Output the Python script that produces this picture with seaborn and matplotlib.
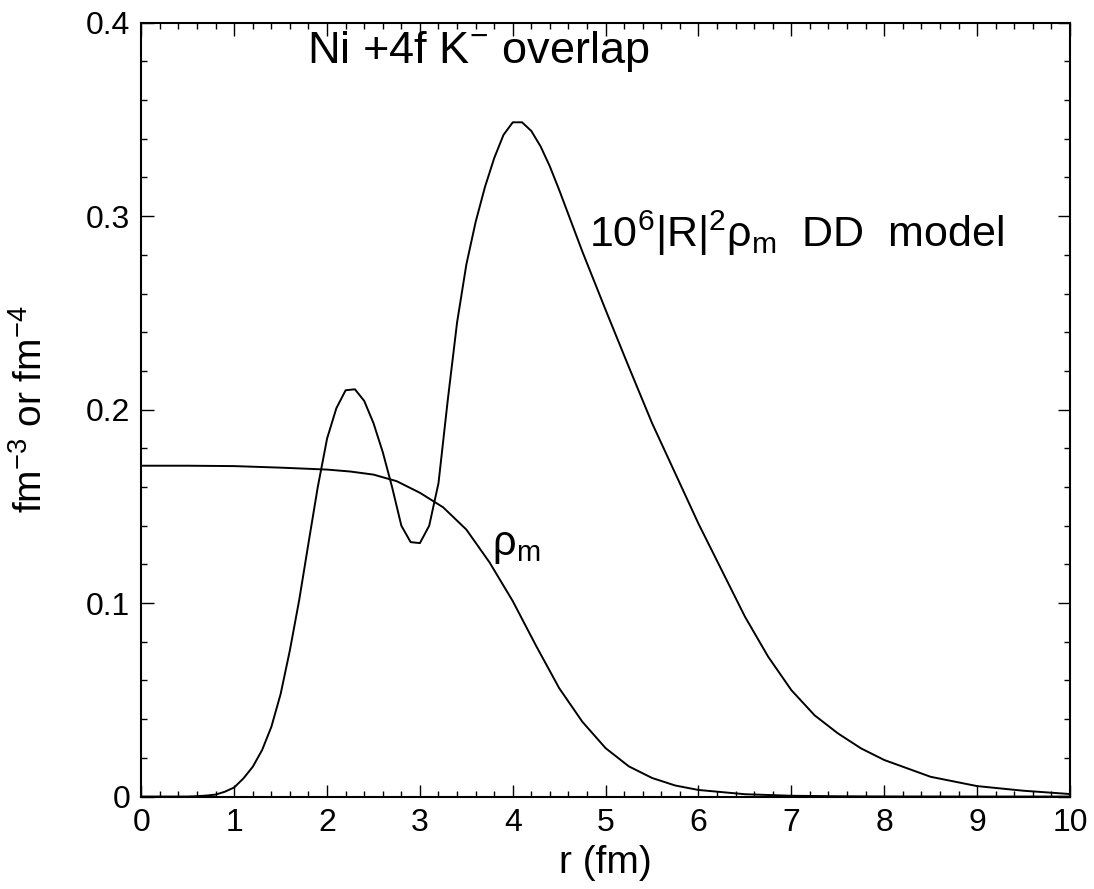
import numpy as np
import pandas as pd
import matplotlib
matplotlib.use('Agg')
import matplotlib.pyplot as plt
import seaborn as sns
from matplotlib.ticker import MultipleLocator, FuncFormatter

# matter density rho_m (fm^-3)
r_rho = [0.0, 0.5, 1.0, 1.5, 2.0, 2.25, 2.5, 2.75, 3.0, 3.25, 3.5, 3.75,
         4.0, 4.25, 4.5, 4.75, 5.0, 5.25, 5.5, 5.75, 6.0, 6.5, 7.0, 7.5,
         8.0, 9.0, 10.0]
rho_m = [0.171, 0.171, 0.1708, 0.1700, 0.1690, 0.1680, 0.1664, 0.1630,
         0.1570, 0.1495, 0.1380, 0.1210, 0.1010, 0.0780, 0.0560, 0.0386,
         0.0250, 0.0156, 0.0096, 0.0057, 0.0034, 0.0012, 0.0004, 0.00015,
         0.00005, 0.0, 0.0]

# 10^6 |R|^2 rho_m for the DD model
r_ov = [0.0, 0.5, 0.6, 0.7, 0.8, 0.9, 1.0, 1.1, 1.2, 1.3, 1.4, 1.5, 1.6,
        1.7, 1.8, 1.9, 2.0, 2.1, 2.2, 2.3, 2.4, 2.5, 2.6, 2.7, 2.8, 2.9,
        3.0, 3.1, 3.2, 3.3, 3.4, 3.5, 3.6, 3.7, 3.8, 3.9, 4.0, 4.1, 4.2,
        4.3, 4.4, 4.5, 4.75, 5.0, 5.25, 5.5, 5.75, 6.0, 6.25, 6.5, 6.75,
        7.0, 7.25, 7.5, 7.75, 8.0, 8.5, 9.0, 9.5, 10.0]
overlap = [0.0, 0.0, 0.0002, 0.0005, 0.0010, 0.0025, 0.0047, 0.0094,
           0.0154, 0.0240, 0.0360, 0.0530, 0.0757, 0.1016, 0.1310, 0.1600,
           0.1850, 0.2007, 0.2100, 0.2105, 0.2045, 0.1930, 0.1780, 0.1600,
           0.1400, 0.1315, 0.1310, 0.1400, 0.1620, 0.2050, 0.2450, 0.2750,
           0.2970, 0.3150, 0.3300, 0.3420, 0.3485, 0.3485, 0.3440, 0.3360,
           0.3256, 0.3135, 0.2816, 0.2515, 0.2220, 0.1930, 0.1670, 0.1410,
           0.1170, 0.0930, 0.0723, 0.0550, 0.0420, 0.0327, 0.0249, 0.0189,
           0.0102, 0.0054, 0.0030, 0.0013]

sns.set_theme(style='ticks')
plt.rcParams['font.family'] = ['Liberation Sans', 'DejaVu Sans']
plt.rcParams['mathtext.fontset'] = 'custom'
plt.rcParams['mathtext.rm'] = 'Liberation Sans'
plt.rcParams['mathtext.it'] = 'Liberation Sans'
for key in ['text.color', 'axes.labelcolor', 'xtick.color', 'ytick.color',
            'axes.edgecolor']:
    plt.rcParams[key] = 'black'

df_rho = pd.DataFrame({'r': r_rho, 'y': rho_m})
df_ov = pd.DataFrame({'r': r_ov, 'y': overlap})

fig = plt.figure(figsize=(10.94, 8.89), dpi=100)
ax = fig.add_axes([0.1292, 0.104, 0.8488, 0.8705])

sns.lineplot(data=df_rho, x='r', y='y', ax=ax, color='black', lw=1.4,
             estimator=None, sort=False)
sns.lineplot(data=df_ov, x='r', y='y', ax=ax, color='black', lw=1.4,
             estimator=None, sort=False)

ax.set_xlim(0, 10)
ax.set_ylim(0, 0.4)
ax.xaxis.set_major_locator(MultipleLocator(1))
ax.xaxis.set_minor_locator(MultipleLocator(0.2))
ax.yaxis.set_major_locator(MultipleLocator(0.1))
ax.yaxis.set_minor_locator(MultipleLocator(0.02))
ax.xaxis.set_major_formatter(FuncFormatter(lambda v, p: f'{v:g}'))
ax.yaxis.set_major_formatter(FuncFormatter(lambda v, p: f'{v:g}'))
ax.tick_params(which='both', direction='in', top=True, right=True,
               width=1.0, labelsize=23, pad=8)
ax.tick_params(which='major', length=9)
ax.tick_params(which='minor', length=4.5)
for s in ax.spines.values():
    s.set_linewidth(1.5)

ax.set_xlabel('r (fm)', fontsize=28, labelpad=5)
ax.set_ylabel(r'fm$^{\mathregular{-3}}$ or fm$^{\mathregular{-4}}$', fontsize=28)
ax.yaxis.set_label_coords(-0.098, 0.5)

ax.text(1.78, 0.379, r'Ni +4f K$^{\mathregular{-}}$ overlap', fontsize=32.5)
ax.text(4.82, 0.284, r'10$^{\mathregular{6}}$|R|$^{\mathregular{2}}$ρ$_{\mathregular{m}}$  DD  model',
        fontsize=31)
ax.text(3.78, 0.1248, r'ρ$_{\mathregular{m}}$', fontsize=30)

fig.savefig('out.png', dpi=100)
